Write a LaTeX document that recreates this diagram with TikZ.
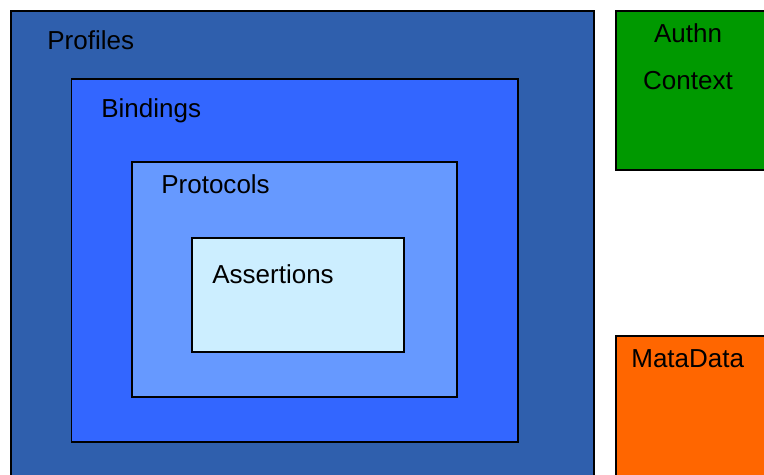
\documentclass[tikz,border=0pt]{standalone}
\usepackage{fontspec}
\setmainfont{Liberation Sans}

\definecolor{profcol}{HTML}{2F5FAD}
\definecolor{bindcol}{HTML}{3366FF}
\definecolor{protcol}{HTML}{6699FF}
\definecolor{asscol}{HTML}{CCEEFF}
\definecolor{authcol}{HTML}{009900}
\definecolor{metacol}{HTML}{FF6600}

\begin{document}
\begin{tikzpicture}[x=0.02cm, y=-0.02cm,
		layer/.style={draw=black, line width=0.6pt},
		lbl/.style={anchor=base west, inner sep=0pt, font=\fontsize{14.8}{18}\selectfont},
		clbl/.style={anchor=base, inner sep=0pt, font=\fontsize{14.8}{18}\selectfont}]
			
			% Cadre de la page
			\useasboundingbox (0,0) rectangle (764,475);
			
			% Couches imbriquees
			\filldraw[layer, fill=profcol] (11,11) rectangle (594,480);
			\filldraw[layer, fill=bindcol] (71.5,79) rectangle (518,442);
			\filldraw[layer, fill=protcol] (132,162) rectangle (457,397);
			\filldraw[layer, fill=asscol] (192,238) rectangle (404,352);
			
			% Blocs a droite
			\filldraw[layer, fill=authcol] (616,11) rectangle (770,170);
			\filldraw[layer, fill=metacol] (616,336) rectangle (770,480);
			
			% Noms des couches
			\node[lbl] (profiles) at (47,50) {Profiles};
			\node[lbl] (bindings) at (101,118) {Bindings};
			\node[lbl] (protocols) at (161,194) {Protocols};
			\node[lbl] (assertions) at (212,284) {Assertions};
			
			% Noms des blocs
			\node[clbl] (authn) at (688,43) {Authn};
			\node[clbl] (context) at (688,90) {Context};
			\node[lbl] (metadata) at (631,368) {MataData};
			
		\end{tikzpicture}
\end{document}
